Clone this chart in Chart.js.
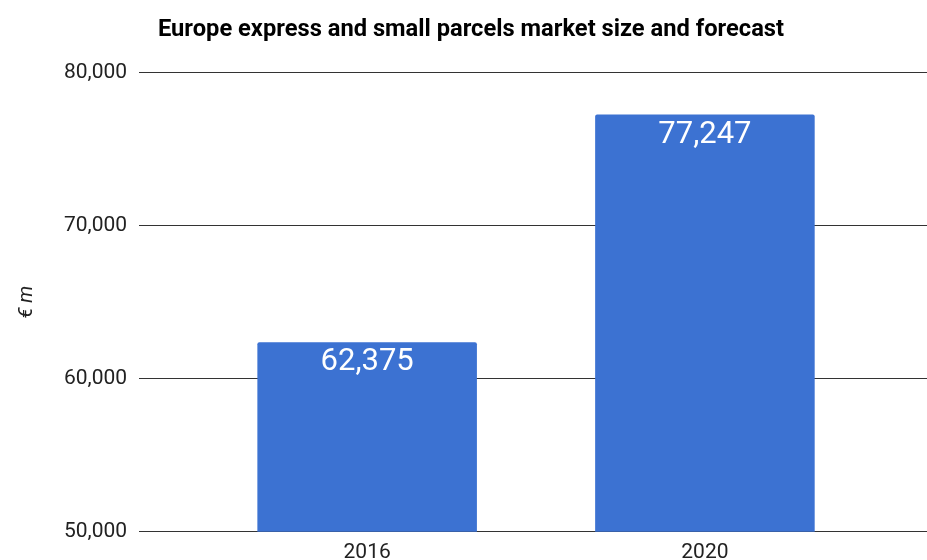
<!DOCTYPE html>
<html>
<head>
<meta charset="utf-8">
<script src="https://cdn.jsdelivr.net/npm/chart.js@4.4.1/dist/chart.umd.min.js"></script>
<style>
    html, body { margin: 0; padding: 0; background: #fff; overflow: hidden; }
    #wrap { width: 927px; height: 590px; position: relative; }
</style>
</head>
<body>
<div id="wrap"><canvas id="market-size"></canvas></div>
<script>
    "use strict";

    // Market size, EUR million
    var years = [2016, 2020];
    var yearLabels = ["2016", "2020"];
    var marketSize = [62375, 77247];
    var yTicks = [50000, 60000, 70000, 80000];

    var barBlue = "#3c72d2";
    var textDark = "#222222";

    // White value labels inside the top of each bar
    var valueLabels = {
        id: "valueLabels",
        afterDatasetsDraw: function (chart) {
            var ctx = chart.ctx;
            var meta = chart.getDatasetMeta(0);
            ctx.save();
            ctx.fillStyle = "#ffffff";
            ctx.font = "31px Roboto";
            ctx.textAlign = "center";
            ctx.textBaseline = "alphabetic";
            meta.data.forEach(function (bar, i) {
                ctx.fillText(marketSize[i].toLocaleString("en-US"), bar.x, bar.y + 28);
            });
            ctx.restore();
        }
    };

    var ctx = document.getElementById("market-size").getContext("2d");
    var myChart = new Chart(ctx, {
        type: "bar",
        data: {
            datasets: [{
                label: "€ m",
                data: years.map(function (y, i) { return { x: y, y: marketSize[i] }; }),
                backgroundColor: barBlue,
                borderRadius: { topLeft: 2, topRight: 2 },
                borderSkipped: "bottom",
                barPercentage: 0.65,
                categoryPercentage: 1
            }]
        },
        options: {
            responsive: true,
            maintainAspectRatio: false,
            animation: false,
            layout: {
                padding: { left: 15, right: 0, top: 0, bottom: 17 }
            },
            plugins: {
                legend: { display: false },
                tooltip: { enabled: false },
                title: {
                    display: true,
                    text: "Europe express and small parcels market size and forecast",
                    color: "#000000",
                    font: { family: "Roboto", size: 23.7, weight: "bold" },
                    padding: { top: 16, bottom: 28 }
                }
            },
            scales: {
                x: {
                    type: "linear",
                    offset: false,
                    min: 2013.3,
                    max: 2022.63,
                    afterBuildTicks: function (scale) {
                        scale.ticks = years.map(function (v) { return { value: v }; });
                    },
                    ticks: {
                        color: textDark,
                        font: { family: "Roboto", size: 21 },
                        padding: 8,
                        callback: function (v) {
                            return yearLabels[years.indexOf(v)];
                        }
                    },
                    grid: { display: false, drawTicks: false, offset: false },
                    border: { display: false }
                },
                y: {
                    min: 50000,
                    max: 80000,
                    afterBuildTicks: function (scale) {
                        scale.ticks = yTicks.map(function (v) { return { value: v }; });
                    },
                    ticks: {
                        color: textDark,
                        font: { family: "Roboto", size: 21 },
                        padding: 12,
                        callback: function (v) { return v.toLocaleString("en-US"); }
                    },
                    grid: { color: "#333333", lineWidth: 1, drawTicks: false },
                    border: { display: false },
                    title: {
                        display: true,
                        text: "€ m",
                        color: textDark,
                        font: { family: "Roboto", size: 20, style: "italic" },
                        padding: { top: 0, bottom: 13 }
                    }
                }
            }
        },
        plugins: [valueLabels]
    });
</script>
</body>
</html>
